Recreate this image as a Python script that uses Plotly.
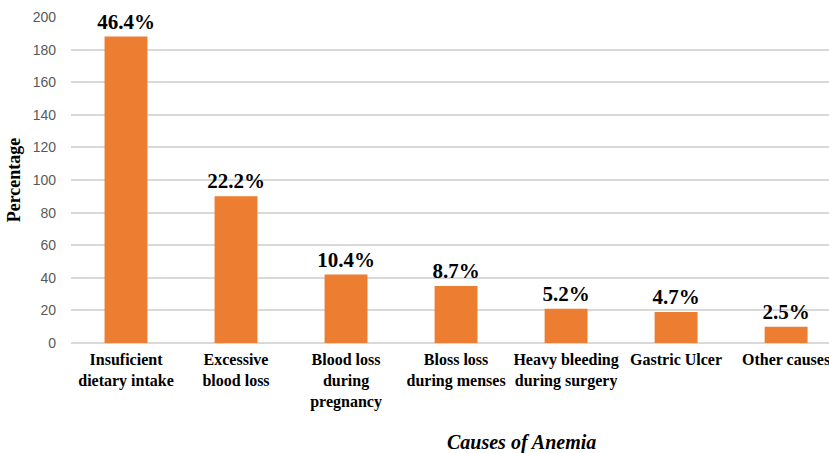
import plotly.graph_objects as go

categories = ["Insuficient<br>dietary intake", "Excessive<br>blood loss", "Blood loss<br>during<br>pregnancy",
              "Bloss loss<br>during menses", "Heavy bleeding<br>during surgery", "Gastric Ulcer", "Other causes"]
values = [188, 90, 42, 35, 21, 19, 10]
labels = ["46.4%", "22.2%", "10.4%", "8.7%", "5.2%", "4.7%", "2.5%"]
y_ticks = [0, 20, 40, 60, 80, 100, 120, 140, 160, 180, 200]

fig = go.Figure(go.Bar(
    x=list(range(len(categories))), y=values, text=labels, textposition="outside",
    textfont=dict(family="Liberation Serif", size=21, color="black"),
    texttemplate="<b>%{text}</b>", cliponaxis=False, constraintext="none",
    marker=dict(color="#ED7D31", line=dict(width=0)), width=0.39,
))

fig.update_layout(
    width=829, height=453, margin=dict(l=71, r=0, t=17, b=110, autoexpand=False),
    plot_bgcolor="white", paper_bgcolor="white", showlegend=False,
    xaxis=dict(range=[-0.5, 6.39], tickmode="array", tickvals=list(range(len(categories))),
               ticktext=["<b>" + c.replace("<br>", "</b><br><b>") + "</b>" for c in categories],
               tickfont=dict(family="Liberation Serif", size=16, color="black"),
               ticklabelstandoff=5, ticklabeloverflow="allow", tickangle=0,
               showline=False, ticks="", showgrid=False, zeroline=False),
    yaxis=dict(range=[0, 200], tickvals=y_ticks, showgrid=True, gridcolor="#d9d9d9", gridwidth=1.5,
               zeroline=True, zerolinecolor="#d9d9d9", zerolinewidth=1.5,
               tickfont=dict(family="Liberation Sans", size=14, color="#595959"), ticks="",
               ticklabelstandoff=14,
               title=dict(text="<b>Percentage</b>", font=dict(family="Liberation Serif", size=18, color="black"),
                          standoff=7)),
)
fig.add_annotation(text="<b><i>Causes of Anemia</i></b>", xref="paper", yref="paper",
                   x=(521 - 71) / (829 - 71), y=(343 - 442) / 326, xanchor="center", yanchor="middle",
                   showarrow=False, font=dict(family="Liberation Serif", size=20, color="black"))
fig.write_html("out.html", config={"displayModeBar": False},
               post_script="document.body.style.margin='0';document.body.style.overflow='hidden';")
